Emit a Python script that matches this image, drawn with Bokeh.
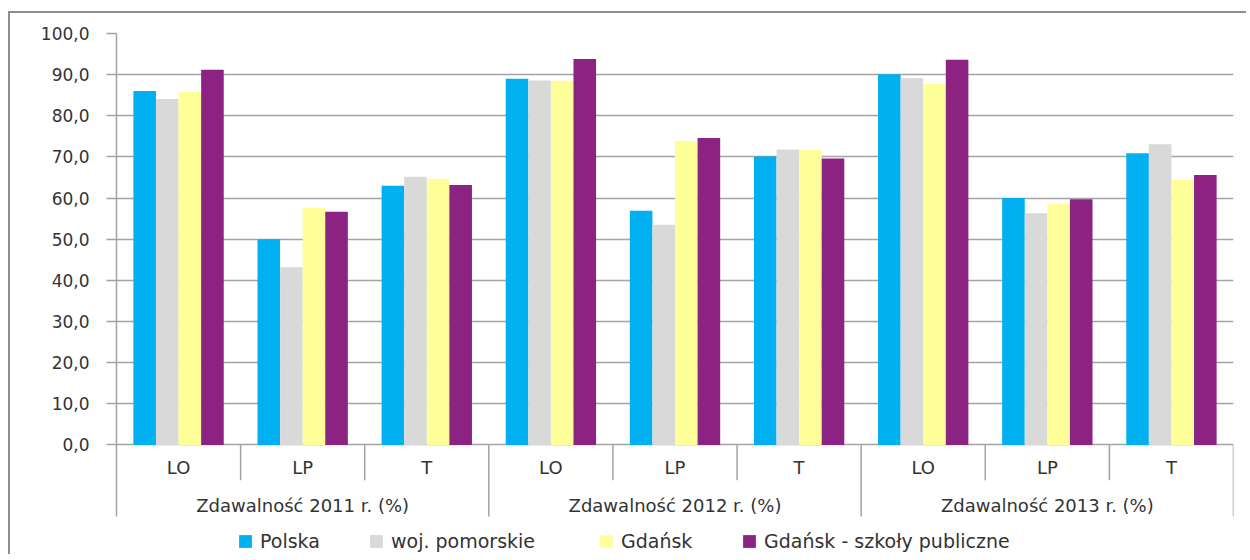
from bokeh.plotting import figure
from bokeh.models import (FactorRange, Range1d, ColumnDataSource, FixedTicker,
                          CustomJSTickFormatter, Legend, LegendItem)
from bokeh.transform import dodge
from bokeh.core.properties import value
from bokeh.embed import file_html
from bokeh.resources import INLINE

# ---- data ----
groups = ["Zdawalność 2011 r. (%)", "Zdawalność 2012 r. (%)", "Zdawalność 2013 r. (%)"]
subs = ["LO", "LP", "T"]
series_names = ["Polska", "woj. pomorskie", "Gdańsk", "Gdańsk - szkoły publiczne"]
polska = [86.0, 50.0, 63.0, 89.0, 56.9, 70.1, 90.1, 60.0, 70.9]
pomorskie = [84.1, 43.2, 65.2, 88.6, 53.5, 71.8, 89.1, 56.3, 73.1]
gdansk = [85.8, 57.6, 64.7, 88.5, 73.9, 71.7, 87.7, 58.6, 64.4]
gdansk_publiczne = [91.2, 56.7, 63.2, 93.8, 74.6, 69.6, 93.6, 59.7, 65.6]
y_ticks = [0, 10, 20, 30, 40, 50, 60, 70, 80, 90, 100]

colors = ["#00B0F0", "#D9D9D9", "#FFFF99", "#8C2382"]
FONT = "DejaVu Sans"
TXT = "#333333"
GRID = "#a3a3a3"

factors = [(g, s) for g in groups for s in subs]
src = ColumnDataSource(dict(x=factors, s0=polska, s1=pomorskie, s2=gdansk, s3=gdansk_publiczne))

x_range = FactorRange(*factors, group_padding=0, factor_padding=0,
                      subgroup_padding=0, range_padding=0)
y_bottom = -27.1
axis_bottom = -17.36

p = figure(width=1238, height=543, x_range=x_range, y_range=Range1d(y_bottom, 100),
           output_backend="svg", toolbar_location=None, x_axis_location=None,
           min_border_left=106, min_border_right=15, min_border_top=20, min_border_bottom=0,
           background_fill_color="white", border_fill_color="white")
p.styles = {"border-top": "2px solid #8e8e8e", "border-left": "2px solid #8e8e8e",
            "margin-top": "11px", "margin-left": "8px"}
p.outline_line_color = None
p.xgrid.visible = False

# y axis
ax = p.yaxis[0]
ax.ticker = FixedTicker(ticks=y_ticks)
ax.formatter = CustomJSTickFormatter(code="return tick.toFixed(1).replace('.', ',');")
ax.bounds = (axis_bottom, 100)
ax.axis_line_color = GRID
ax.axis_line_width = 1.5
ax.major_tick_line_color = GRID
ax.major_tick_line_width = 1.5
ax.major_tick_out = 10
ax.major_tick_in = 0
ax.minor_tick_line_color = None
ax.major_label_standoff = 17
ax.major_label_text_font = FONT
ax.major_label_text_font_size = "17px"
ax.major_label_text_color = TXT

p.ygrid.grid_line_color = GRID
p.ygrid.grid_line_width = 1.5

# bars
bar_w = 0.182
offsets = [-1.5 * bar_w, -0.5 * bar_w, 0.5 * bar_w, 1.5 * bar_w]
renderers = []
for i, (off, c) in enumerate(zip(offsets, colors)):
    r = p.vbar(x=dodge("x", off, range=p.x_range), top="s%d" % i, bottom=0, width=bar_w,
               source=src, fill_color=c, line_color=None)
    renderers.append(r)

# category separators
sub_sep = ColumnDataSource(dict(x=[f for f in factors if f[1] != subs[0]]))
p.segment(x0=dodge("x", -0.5, range=p.x_range), y0=0,
          x1=dodge("x", -0.5, range=p.x_range), y1=-8.6,
          source=sub_sep, line_color=GRID, line_width=1.5)
grp_left = [f for f in factors if f[1] == subs[0]][1:]
p.segment(x0=dodge("x", -0.5, range=p.x_range), y0=0,
          x1=dodge("x", -0.5, range=p.x_range), y1=axis_bottom,
          source=ColumnDataSource(dict(x=grp_left)), line_color=GRID, line_width=1.5)
p.segment(x0=dodge("x", 0.5, range=p.x_range), y0=0,
          x1=dodge("x", 0.5, range=p.x_range), y1=axis_bottom,
          source=ColumnDataSource(dict(x=[factors[-1]])), line_color=GRID, line_width=1.5)

# category labels
sub_lab = ColumnDataSource(dict(x=factors, t=[f[1] for f in factors]))
p.text(x="x", y=-5.45, text="t", source=sub_lab, text_align="center",
       text_baseline="middle", text_font=value(FONT), text_font_size="18px",
       text_color=TXT)
grp_lab = ColumnDataSource(dict(x=[(g, subs[1]) for g in groups], t=groups))
p.text(x="x", y=-14.75, text="t", source=grp_lab, text_align="center",
       text_baseline="middle", text_font=value(FONT), text_font_size="18px",
       text_color=TXT)

# legend: one entry per box, placed like the reference
legend_x = [121, 252, 482, 625]
for n, r, lx in zip(series_names, renderers, legend_x):
    lg = Legend(items=[LegendItem(label=n, renderers=[r])],
                orientation="horizontal", location=(lx, 4), glyph_width=16, glyph_height=16,
                label_standoff=7, padding=0, margin=0,
                border_line_color=None, background_fill_alpha=0,
                label_text_font=FONT, label_text_font_size="19px", label_text_color=TXT)
    p.add_layout(lg)

open("out.html", "w").write(file_html(p, INLINE))
